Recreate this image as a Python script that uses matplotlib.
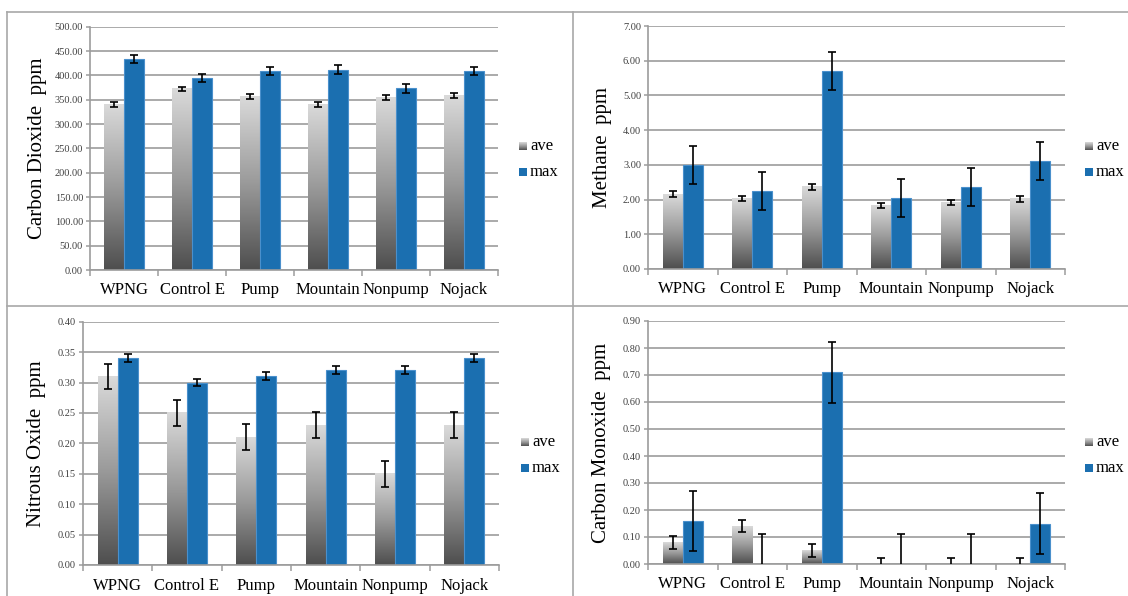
import matplotlib
matplotlib.use("Agg")
import matplotlib.pyplot as plt
import numpy as np
from matplotlib.colors import LinearSegmentedColormap
from matplotlib.patches import Rectangle
from matplotlib.lines import Line2D

plt.rcParams['font.family'] = ['Liberation Serif', 'DejaVu Serif']

sites = ["WPNG", "Control E", "Pump", "Mountain", "Nonpump", "Nojack"]

co2_ave = [341, 372, 357, 340, 354, 358]
co2_max = [434, 395, 409, 412, 373, 409]
co2_err = [5.0, 8.5]          # standard error (ave, max)

ch4_ave = [2.16, 2.03, 2.37, 1.83, 1.91, 2.02]
ch4_max = [3.00, 2.25, 5.70, 2.05, 2.37, 3.10]
ch4_err = [0.08, 0.55]

n2o_ave = [0.31, 0.25, 0.21, 0.23, 0.15, 0.23]
n2o_max = [0.34, 0.30, 0.31, 0.32, 0.32, 0.34]
n2o_err = [0.021, 0.0065]

co_ave = [0.08, 0.14, 0.05, 0.0, 0.0, 0.0]
co_max = [0.16, 0.0, 0.71, 0.0, 0.0, 0.15]
co_err = [0.023, 0.112]

W, H = 1128, 596
blue = '#1b6fb0'
grid_c = '#9c9c9c'
grey_cmap = LinearSegmentedColormap.from_list('ave', ['#4e4e4e', '#9a9a9a', '#dadada'])

fig = plt.figure(figsize=(W / 100, H / 100), dpi=100)
fig.patch.set_facecolor('white')


def px_box(x0, y0, x1, y1):
    # pixel box (top-left origin) -> figure fraction [l, b, w, h]
    return [x0 / W, 1 - y1 / H, (x1 - x0) / W, (y1 - y0) / H]


panels = [
    (px_box(90, 26.7, 498, 270), co2_ave, co2_max, co2_err, 500, 50, "Carbon Dioxide  ppm", -0.105, (519, 146, 172)),
    (px_box(648, 26, 1065, 269), ch4_ave, ch4_max, ch4_err, 7, 1, "Methane  ppm", -0.086, (1085, 146, 172)),
    (px_box(83, 321.7, 499, 565), n2o_ave, n2o_max, n2o_err, 0.40, 0.05, "Nitrous Oxide  ppm", -0.088, (521, 441.5, 467.5)),
    (px_box(648, 321, 1065, 564), co_ave, co_max, co_err, 0.90, 0.10, "Carbon Monoxide  ppm", -0.088, (1085, 441.5, 467.5)),
]

bw = 0.29
x = np.arange(len(sites))

for rect, ave, mx, err, ytop, ystep, ylab, labx, leg in panels:
    ax = fig.add_axes(rect)
    ax.set_facecolor('white')

    # gradient grey bars for the averages
    for xi, v in zip(x, ave):
        if v > 0:
            ax.imshow(np.linspace(0, 1, 256).reshape(-1, 1), cmap=grey_cmap, origin='lower',
                      extent=(xi - bw, xi, 0, v), aspect='auto', interpolation='bilinear', zorder=2)
    ax.bar(x + bw / 2, mx, bw, color=blue, edgecolor='#4a90cc', linewidth=0.8, zorder=2)

    ax.errorbar(x - bw / 2, ave, yerr=err[0], fmt='none', ecolor='black', elinewidth=1.2,
                capsize=3, capthick=1.2, zorder=4)
    ax.errorbar(x + bw / 2, mx, yerr=err[1], fmt='none', ecolor='black', elinewidth=1.2,
                capsize=3, capthick=1.2, zorder=4)

    ax.set_xlim(-0.5, len(sites) - 0.5)
    ax.set_ylim(0, ytop)
    yt = np.arange(0, ytop + ystep / 2, ystep)
    ax.set_yticks(yt)
    ax.set_yticklabels([f"{v:.2f}" for v in yt], fontsize=7.5, color='#404040')
    ax.yaxis.grid(True, color=grid_c, linewidth=1.2, zorder=0)
    ax.set_axisbelow(True)

    ax.set_xticks(x)
    ax.set_xticklabels(sites, fontsize=12)
    ax.set_xticks(np.arange(-0.5, len(sites), 1.0), minor=True)
    ax.tick_params(axis='x', which='major', length=0, pad=9)
    ax.tick_params(axis='x', which='minor', length=4, color=grid_c, width=1.1, direction='out')
    ax.tick_params(axis='y', length=3, color=grid_c, width=1.1, pad=2)

    for s in ['top', 'right']:
        ax.spines[s].set_visible(False)
    for s in ['left', 'bottom']:
        ax.spines[s].set_color(grid_c)
        ax.spines[s].set_linewidth(1.2)

    ax.set_ylabel(ylab, fontsize=15)
    ax.yaxis.set_label_coords(labx, 0.5)

    # legend keys on the right of each panel
    lx, ya, ym = leg
    sq = 8
    nb = 8
    for k in range(nb):
        shade = grey_cmap(1 - (k + 0.5) / nb)
        fig.add_artist(Rectangle((lx / W, 1 - (ya - sq / 2 + (k + 1) * sq / nb) / H), sq / W, (sq / nb) / H,
                                 transform=fig.transFigure, facecolor=shade, edgecolor='none'))
    fig.add_artist(Rectangle((lx / W, 1 - (ym + sq / 2) / H), sq / W, sq / H,
                             transform=fig.transFigure, facecolor=blue, edgecolor='none'))
    fig.text((lx + sq + 3) / W, 1 - ya / H, "ave", fontsize=12, va='center', ha='left')
    fig.text((lx + sq + 3) / W, 1 - ym / H, "max", fontsize=12, va='center', ha='left')

# panel frames
frame_c = '#a8a8a8'
for (xa, ya_, xb, yb) in [(7, 11.5, W, 11.5), (7, 11.5, 7, H), (573, 11.5, 573, H), (7, 306, W, 306)]:
    fig.add_artist(Line2D([xa / W, xb / W], [1 - ya_ / H, 1 - yb / H], transform=fig.transFigure,
                          color=frame_c, linewidth=1.2))

fig.savefig("out.png", dpi=100, facecolor='white')
